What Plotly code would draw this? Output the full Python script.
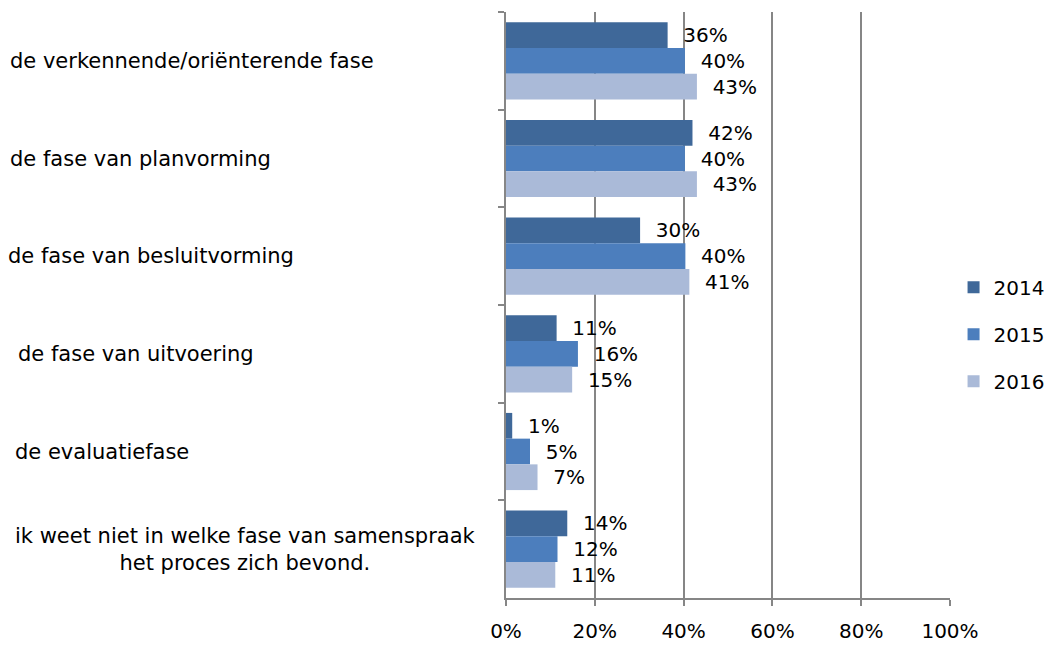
import plotly.graph_objects as go

categories = [
    "de verkennende/oriënterende fase",
    "de fase van planvorming",
    "de fase van besluitvorming",
    "de fase van uitvoering",
    "de evaluatiefase",
    "ik weet niet in welke fase van samenspraak<br>het proces zich bevond.",
]
years = ["2014", "2015", "2016"]
values_2014 = [0.364, 0.420, 0.302, 0.114, 0.014, 0.138]
values_2015 = [0.403, 0.403, 0.404, 0.162, 0.054, 0.116]
values_2016 = [0.430, 0.430, 0.413, 0.149, 0.071, 0.111]
colors = ["#3F6899", "#4C7EBD", "#AABAD8"]

# pixel offsets for category labels (layout only)
label_shift = [-498, -498, -500, -490, -493, -261]
label_anchor = ["left", "left", "left", "left", "left", "center"]

FONT = "DejaVu Sans"
fig = go.Figure()
for yr, vals, col in zip(years, [values_2014, values_2015, values_2016], colors):
    fig.add_trace(go.Bar(
        y=categories, x=vals, name=yr, orientation="h",
        marker=dict(color=col, line=dict(width=0)),
        text=["  " + f"{round(v*100):d}%" for v in vals],
        textposition="outside", constraintext="none", cliponaxis=False,
        textfont=dict(family=FONT, size=20, color="#000000"),
        legendgroup=yr, hoverinfo="skip",
    ))

for cat, sh, anc in zip(categories, label_shift, label_anchor):
    fig.add_annotation(
        x=0, xref="paper", y=cat, yref="y", text=cat, showarrow=False,
        xanchor=anc, xshift=sh, align="center",
        font=dict(family=FONT, size=21, color="#000000"),
    )

fig.update_layout(
    width=1047, height=645,
    margin=dict(l=506, r=97, t=12, b=47, autoexpand=False),
    paper_bgcolor="white", plot_bgcolor="white",
    barmode="group", bargap=0.21, bargroupgap=0,
    font=dict(family=FONT, size=20, color="#000000"),
    legend=dict(x=1.008, y=0.45, xanchor="left", yanchor="middle",
                traceorder="grouped", tracegroupgap=18,
                font=dict(family=FONT, size=20)),
    showlegend=True,
)
fig.update_xaxes(
    range=[0, 1], dtick=0.2, tickformat=".0%",
    showgrid=True, gridcolor="#868686", gridwidth=1.5,
    showline=True, linecolor="#868686", linewidth=1.5,
    ticks="outside", ticklen=6, tickcolor="#868686", tickwidth=1.5,
    ticklabelstandoff=8,
    zeroline=False, tickfont=dict(family=FONT, size=20), fixedrange=True,
)
fig.update_yaxes(
    autorange="reversed", showticklabels=False,
    showline=True, linecolor="#868686", linewidth=1.5,
    ticks="outside", ticklen=6, tickcolor="#868686", tickwidth=1.5,
    tickson="boundaries", showgrid=False, fixedrange=True,
)

fig.write_html("out.html", config={"displayModeBar": False},
               post_script="document.body.style.margin='0';")
